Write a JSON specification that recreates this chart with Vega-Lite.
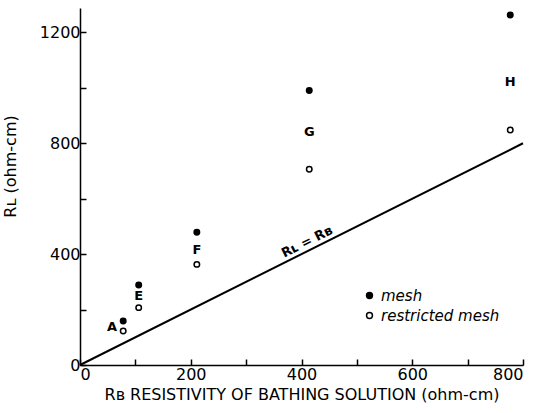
{
  "$schema": "https://vega.github.io/schema/vega-lite/v6.json",
  "autosize": {"type": "none"},
  "padding": {"left": 80, "top": 8, "right": 17, "bottom": 48},
  "width": 443,
  "height": 357,
  "background": "white",
  "config": {
    "view": {"stroke": null},
    "font": "DejaVu Sans",
    "axis": {
      "grid": false,
      "domainColor": "black",
      "domainWidth": 1.5,
      "tickColor": "black",
      "tickWidth": 1.5,
      "tickSize": -6,
      "labelColor": "black",
      "titleColor": "black",
      "labelFont": "DejaVu Sans",
      "titleFont": "DejaVu Sans",
      "labelFontSize": 16,
      "titleFontSize": 16,
      "titleFontWeight": "normal"
    }
  },
  "datasets": {
    "pts": [
      {"sample": "A", "rb": 78, "rl": 159, "type": "mesh"},
      {"sample": "A", "rb": 78, "rl": 123, "type": "restricted mesh"},
      {"sample": "E", "rb": 106, "rl": 289, "type": "mesh"},
      {"sample": "E", "rb": 106, "rl": 207, "type": "restricted mesh"},
      {"sample": "F", "rb": 211, "rl": 479, "type": "mesh"},
      {"sample": "F", "rb": 211, "rl": 363, "type": "restricted mesh"},
      {"sample": "G", "rb": 414, "rl": 990, "type": "mesh"},
      {"sample": "G", "rb": 414, "rl": 706, "type": "restricted mesh"},
      {"sample": "H", "rb": 777, "rl": 1263, "type": "mesh"},
      {"sample": "H", "rb": 777, "rl": 848, "type": "restricted mesh"}
    ],
    "labels": [
      {"sample": "A", "rb": 58, "rl": 137},
      {"sample": "E", "rb": 106, "rl": 249},
      {"sample": "F", "rb": 211, "rl": 415},
      {"sample": "G", "rb": 414, "rl": 841},
      {"sample": "H", "rb": 777, "rl": 1021}
    ],
    "line": [
      {"rb": 0, "rl": 0},
      {"rb": 800, "rl": 800}
    ],
    "lineLabel": [
      {"rb": 410, "rl": 444, "text": "Rʟ = Rʙ"}
    ]
  },
  "layer": [
    {
      "data": {"name": "line"},
      "mark": {"type": "line", "color": "black", "strokeWidth": 2},
      "encoding": {
        "x": {
          "field": "rb", "type": "quantitative",
          "scale": {"domain": [0, 800], "nice": false, "zero": true},
          "axis": {
            "values": [0, 100, 200, 300, 400, 500, 600, 700, 800],
            "format": "d",
            "labelExpr": "datum.value % 200 === 0 ? datum.label : ''",
            "labelPadding": 7,
            "title": "Rʙ RESISTIVITY OF BATHING SOLUTION (ohm-cm)",
            "titlePadding": 4
          }
        },
        "y": {
          "field": "rl", "type": "quantitative",
          "scale": {"domain": [0, 1288], "nice": false},
          "axis": {
            "values": [0, 200, 400, 600, 800, 1000, 1200],
            "format": "d",
            "labelExpr": "datum.value % 400 === 0 ? datum.label : ''",
            "labelPadding": 6,
            "title": "Rʟ (ohm-cm)",
            "titleX": -62,
            "titleY": 158,
            "titleAngle": -90,
            "titleAlign": "center"
          }
        }
      }
    },
    {
      "data": {"name": "pts"},
      "mark": {"type": "point", "filled": false, "stroke": "black", "strokeWidth": 1.5, "size": 30, "opacity": 1},
      "encoding": {
        "x": {"field": "rb", "type": "quantitative"},
        "y": {"field": "rl", "type": "quantitative"},
        "fill": {
          "field": "type", "type": "nominal",
          "scale": {"domain": ["mesh", "restricted mesh"], "range": ["black", "white"]},
          "legend": {
            "title": null,
            "orient": "none",
            "legendX": 282,
            "legendY": 280,
            "labelFontSize": 15,
            "labelFontStyle": "italic",
            "labelColor": "black",
            "symbolStrokeColor": "black",
            "symbolStrokeWidth": 1.5,
            "symbolSize": 35,
            "symbolType": "circle",
            "rowPadding": 4
          }
        }
      }
    },
    {
      "data": {"name": "labels"},
      "mark": {"type": "text", "fontWeight": "bold", "fontSize": 13, "color": "black", "baseline": "middle", "align": "center"},
      "encoding": {
        "x": {"field": "rb", "type": "quantitative"},
        "y": {"field": "rl", "type": "quantitative"},
        "text": {"field": "sample"}
      }
    },
    {
      "data": {"name": "lineLabel"},
      "mark": {"type": "text", "fontWeight": "bold", "fontSize": 13, "color": "black", "angle": 333.4, "baseline": "middle", "align": "center"},
      "encoding": {
        "x": {"field": "rb", "type": "quantitative"},
        "y": {"field": "rl", "type": "quantitative"},
        "text": {"field": "text"}
      }
    }
  ]
}
